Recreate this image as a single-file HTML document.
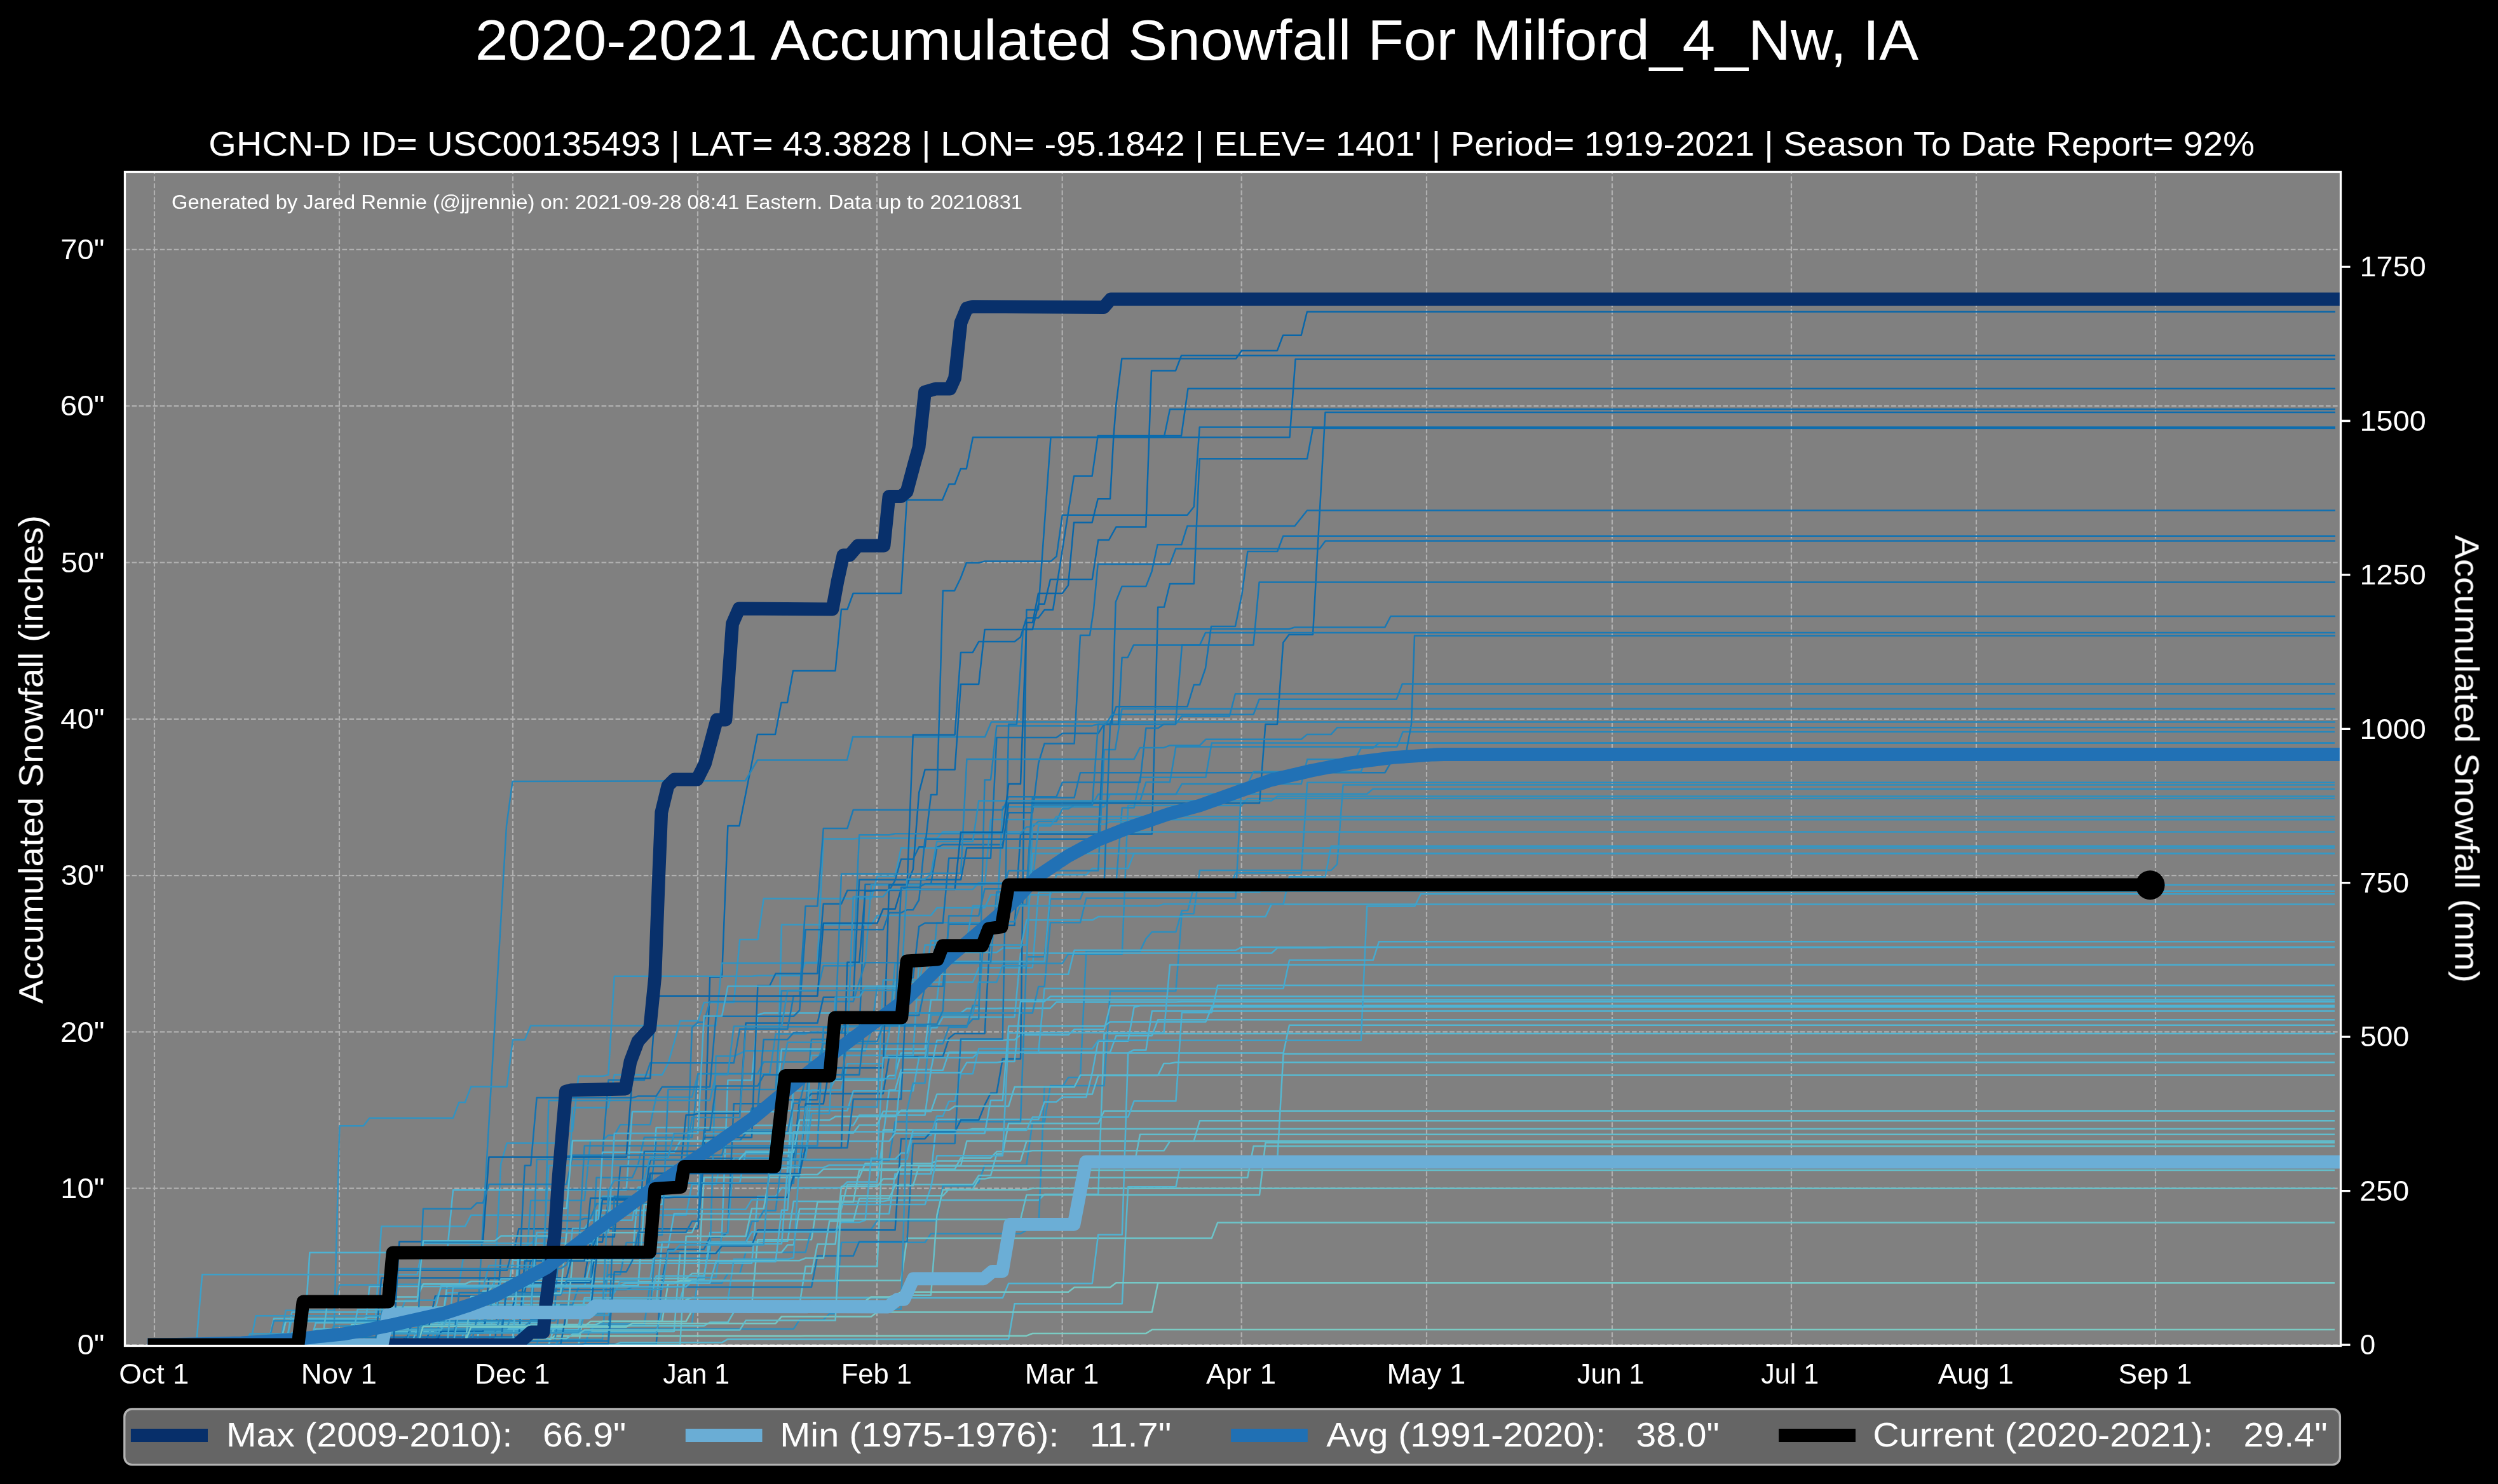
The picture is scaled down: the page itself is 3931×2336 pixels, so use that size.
<!DOCTYPE html>
<html><head><meta charset="utf-8"><style>html,body{margin:0;padding:0;background:#000;overflow:hidden}svg{display:block}</style></head>
<body><svg width="3931" height="2336" viewBox="0 0 3931 2336" font-family='"Liberation Sans", sans-serif'>
<rect x="0" y="0" width="3931" height="2336" fill="#000"/>
<rect x="196.5" y="270.5" width="3487.0" height="1848.0" fill="#808080"/>
<path d="M243 2118.5V270.5 M534 2118.5V270.5 M807 2118.5V270.5 M1098 2118.5V270.5 M1380 2118.5V270.5 M1671.7 2118.5V270.5 M1953.7 2118.5V270.5 M2245 2118.5V270.5 M2537 2118.5V270.5 M2819 2118.5V270.5 M3110 2118.5V270.5 M3392 2118.5V270.5" stroke="#b0b0b0" stroke-width="2.2" stroke-dasharray="7.7 3.33" stroke-dashoffset="8.63" fill="none"/>
<path d="M196.5 2117.0H3683.5 M196.5 1870.7H3683.5 M196.5 1624.4H3683.5 M196.5 1378.1H3683.5 M196.5 1131.8H3683.5 M196.5 885.5H3683.5 M196.5 639.2H3683.5 M196.5 392.9H3683.5" stroke="#b0b0b0" stroke-width="2.2" stroke-dasharray="7.7 3.33" fill="none"/>
<clipPath id="axclip"><rect x="196.5" y="270.5" width="3487.0" height="1848.0"/></clipPath>
<g clip-path="url(#axclip)"><path d="M243.0 2117.0 L769.4 2117.0 L778.8 2042.6 L797.6 2042.6 L807.0 1983.8 L995.0 1983.8 L1004.4 1868.7 L1060.8 1868.7 L1070.2 1842.4 L1145.4 1842.4 L1154.8 1838.9 L1239.4 1838.9 L1248.8 1700.5 L1389.8 1700.5 L1399.2 1692.9 L1408.6 1692.9 L1418.0 1657.4 L2019.6 1657.4 L2029.0 1613.8 L3674.0 1613.8" stroke="#51b5d2" stroke-width="2.5" fill="none" stroke-linejoin="round"/>
<path d="M243.0 2117.0 L722.4 2117.0 L731.8 2092.9 L910.4 2092.9 L919.8 2046.6 L1070.2 2046.6 L1079.6 2013.6 L1107.8 2013.6 L1117.2 1939.9 L1136.0 1939.9 L1145.4 1700.5 L1183.0 1700.5 L1192.4 1597.8 L1201.8 1594.6 L1512.0 1594.6 L1521.4 1587.5 L1568.4 1587.5 L1577.8 1587.0 L1653.0 1587.0 L1662.4 1577.4 L1850.4 1577.4 L1859.8 1576.9 L3674.0 1576.9" stroke="#4db2d3" stroke-width="2.5" fill="none" stroke-linejoin="round"/>
<path d="M243.0 2117.0 L449.8 2117.0 L459.2 2076.9 L590.8 2076.9 L600.2 1930.6 L731.8 1930.6 L741.2 1912.8 L1079.6 1912.8 L1089.0 1864.0 L1126.6 1864.0 L1136.0 1816.3 L1267.6 1816.3 L1277.0 1715.8 L1324.0 1715.8 L1333.4 1674.2 L1389.8 1674.2 L1399.2 1626.6 L1408.6 1546.1 L1530.8 1546.1 L1540.2 1523.2 L1624.8 1523.2 L1634.2 1404.5 L1982.0 1404.5 L1991.4 1392.9 L3674.0 1392.9" stroke="#3c9fc8" stroke-width="2.5" fill="none" stroke-linejoin="round"/>
<path d="M243.0 2117.0 L421.6 2117.0 L431.0 2075.4 L572.0 2075.4 L581.4 2073.2 L703.6 2073.2 L713.0 2053.7 L1032.6 2053.7 L1042.0 1954.7 L1192.4 1954.7 L1201.8 1953.7 L1239.4 1953.7 L1248.8 1891.1 L1389.8 1891.1 L1399.2 1889.2 L1634.2 1889.2 L1643.6 1880.1 L1728.2 1880.1 L1737.6 1626.9 L3674.0 1626.9" stroke="#53b6d1" stroke-width="2.5" fill="none" stroke-linejoin="round"/>
<path d="M243.0 2117.0 L910.4 2117.0 L919.8 2059.1 L995.0 2059.1 L1004.4 2055.9 L1183.0 2055.9 L1192.4 1951.2 L1277.0 1951.2 L1286.4 1891.9 L1342.8 1891.9 L1352.2 1841.9 L3674.0 1841.9" stroke="#65c0cb" stroke-width="2.5" fill="none" stroke-linejoin="round"/>
<path d="M243.0 2117.0 L844.6 2117.0 L854.0 2086.2 L1013.8 2086.2 L1023.2 2019.7 L1136.0 2019.7 L1145.4 2004.9 L1164.2 2004.9 L1173.6 1971.2 L1267.6 1971.2 L1277.0 1935.0 L1371.0 1935.0 L1380.4 1921.4 L1474.4 1921.4 L1483.8 1866.5 L1530.8 1866.5 L1540.2 1861.3 L1549.6 1834.2 L1615.4 1834.2 L1624.8 1766.5 L1643.6 1766.5 L1653.0 1709.1 L1737.6 1709.1 L1747.0 1559.9 L1850.4 1559.9 L1859.8 1438.2 L1878.6 1438.2 L1888.0 1370.0 L2094.8 1370.0 L2104.2 1360.4 L2113.6 1235.5 L3674.0 1235.5" stroke="#2c8ebf" stroke-width="2.5" fill="none" stroke-linejoin="round"/>
<path d="M243.0 2117.0 L355.8 2117.0 L365.2 2115.8 L1032.6 2115.8 L1042.0 2014.0 L1051.4 1966.8 L1107.8 1966.8 L1117.2 1947.3 L1136.0 1947.3 L1145.4 1939.2 L1154.8 1737.2 L1230.0 1737.2 L1239.4 1731.3 L1286.4 1731.3 L1295.8 1626.1 L1352.2 1626.1 L1361.6 1391.9 L1465.0 1391.9 L1474.4 1334.0 L1483.8 1329.6 L1577.8 1329.6 L1587.2 1279.3 L1624.8 1279.3 L1634.2 1201.5 L1643.6 1170.5 L1690.6 1170.5 L1700.0 1000.0 L1715.0 1000.0 L1721.0 960.0 L1727.7 888.0 L1841.0 888.0 L1850.2 863.8 L2076.6 863.8 L2085.7 851.6 L3675.0 851.6" stroke="#1373b2" stroke-width="2.5" fill="none" stroke-linejoin="round"/>
<path d="M243.0 2117.0 L778.8 2117.0 L788.2 1976.9 L807.0 1976.9 L816.4 1934.2 L1098.4 1934.2 L1107.8 1823.4 L1248.8 1823.4 L1258.2 1730.8 L1267.6 1730.8 L1277.0 1721.4 L1389.8 1721.4 L1399.2 1663.1 L1483.8 1663.1 L1493.2 1634.5 L1502.6 1626.9 L1549.6 1626.9 L1559.0 1456.7 L1596.6 1456.7 L1606.0 1312.8 L1812.8 1312.8 L1822.2 955.7 L1832.0 955.6 L1841.0 919.0 L1878.8 919.0 L1887.7 722.3 L2057.0 722.3 L2066.0 674.0 L3675.0 674.0" stroke="#0d6dae" stroke-width="2.5" fill="none" stroke-linejoin="round"/>
<path d="M243.0 2117.0 L750.6 2117.0 L760.0 2032.5 L769.4 2032.5 L778.8 2017.5 L1098.4 2017.5 L1107.8 1853.5 L1352.2 1853.5 L1361.6 1831.5 L1465.0 1831.5 L1474.4 1827.4 L1606.0 1827.4 L1615.4 1796.3 L3674.0 1796.3" stroke="#61bdcd" stroke-width="2.5" fill="none" stroke-linejoin="round"/>
<path d="M243.0 2117.0 L872.8 2117.0 L882.2 2108.6 L948.0 2108.6 L957.4 1980.8 L1117.2 1980.8 L1126.6 1662.6 L1154.8 1662.6 L1164.2 1658.4 L1173.6 1654.2 L1361.6 1654.2 L1371.0 1622.2 L1399.2 1622.2 L1408.6 1516.5 L1671.8 1516.5 L1681.2 1501.7 L1765.8 1501.7 L1775.2 1268.0 L1953.8 1268.0 L1963.2 1256.9 L3674.0 1256.9" stroke="#2d8fbf" stroke-width="2.5" fill="none" stroke-linejoin="round"/>
<path d="M243.0 2117.0 L919.8 2117.0 L929.2 2091.9 L1248.8 2091.9 L1258.2 2077.6 L1295.8 2077.6 L1305.2 2068.0 L1314.6 2068.0 L1324.0 1955.7 L1455.6 1955.7 L1465.0 1941.9 L1606.0 1941.9 L1615.4 1936.5 L1634.2 1936.5 L1643.6 1710.6 L1671.8 1710.6 L1681.2 1696.1 L1700.0 1696.1 L1709.4 1497.1 L1794.0 1497.1 L1803.4 1477.6 L1812.8 1467.0 L1850.4 1467.0 L1859.8 1433.3 L1869.2 1433.3 L1878.6 1396.1 L1935.0 1396.1 L1944.4 1374.2 L2047.8 1374.2 L2057.2 1231.8 L3674.0 1231.8" stroke="#2c8ebf" stroke-width="2.5" fill="none" stroke-linejoin="round"/>
<path d="M243.0 2117.0 L412.2 2117.0 L421.6 2113.6 L816.4 2113.6 L825.8 2027.6 L835.2 1889.7 L919.8 1889.7 L929.2 1795.1 L948.0 1795.1 L957.4 1787.0 L966.8 1787.0 L976.2 1770.2 L1023.2 1770.2 L1032.6 1726.9 L1089.0 1726.9 L1098.4 1690.2 L1211.2 1690.2 L1220.6 1627.6 L1267.6 1627.6 L1277.0 1624.4 L1371.0 1624.4 L1380.4 1552.2 L1465.0 1552.2 L1474.4 1452.2 L1568.4 1452.2 L1577.8 1270.2 L1737.6 1270.2 L1747.0 1249.8 L2151.2 1249.8 L2160.6 1241.9 L3674.0 1241.9" stroke="#2c8ebf" stroke-width="2.5" fill="none" stroke-linejoin="round"/>
<path d="M243.0 2117.0 L600.2 2117.0 L609.6 2096.1 L1060.8 2096.1 L1070.2 1971.4 L1230.0 1971.4 L1239.4 1959.6 L1248.8 1959.6 L1258.2 1903.0 L1324.0 1903.0 L1333.4 1864.8 L1530.8 1864.8 L1540.2 1850.3 L1559.0 1850.3 L1568.4 1816.5 L1577.8 1816.5 L1587.2 1768.5 L1728.2 1768.5 L1737.6 1748.8 L3674.0 1748.8" stroke="#5dbbce" stroke-width="2.5" fill="none" stroke-linejoin="round"/>
<path d="M243.0 2117.0 L468.6 2117.0 L478.0 2057.4 L1070.2 2057.4 L1079.6 2046.1 L1089.0 2042.6 L1418.0 2042.6 L1427.4 2038.7 L1465.0 2038.7 L1474.4 1913.1 L1483.8 1872.9 L1615.4 1872.9 L1624.8 1870.7 L3674.0 1870.7" stroke="#68c1ca" stroke-width="2.5" fill="none" stroke-linejoin="round"/>
<path d="M243.0 2117.0 L816.4 2117.0 L825.8 2022.4 L891.6 2022.4 L901.0 1933.8 L919.8 1933.8 L929.2 1920.7 L995.0 1920.7 L1004.4 1869.2 L1051.4 1869.2 L1060.8 1862.3 L1164.2 1862.3 L1173.6 1812.3 L1211.2 1812.3 L1220.6 1748.3 L1333.4 1748.3 L1342.8 1717.3 L1436.8 1717.3 L1446.2 1664.5 L1455.6 1664.5 L1465.0 1617.7 L1474.4 1617.7 L1483.8 1601.0 L1596.6 1601.0 L1606.0 1500.5 L2000.8 1500.5 L2010.2 1492.1 L2085.4 1492.1 L2094.8 1490.9 L3674.0 1490.9" stroke="#47abcf" stroke-width="2.5" fill="none" stroke-linejoin="round"/>
<path d="M243.0 2117.0 L440.4 2117.0 L449.8 2080.3 L807.0 2080.3 L816.4 1963.6 L1051.4 1963.6 L1060.8 1910.4 L1399.2 1910.4 L1408.6 1847.8 L1465.0 1847.8 L1474.4 1762.1 L1634.2 1762.1 L1643.6 1734.5 L1662.4 1734.5 L1671.8 1726.9 L1709.4 1726.9 L1718.8 1688.7 L1728.2 1638.7 L1775.2 1638.7 L1784.6 1585.5 L1794.0 1583.0 L3674.0 1583.0" stroke="#4fb3d3" stroke-width="2.5" fill="none" stroke-linejoin="round"/>
<path d="M243.0 2117.0 L966.8 2117.0 L976.2 2113.3 L1136.0 2113.3 L1145.4 2107.9 L1587.2 2107.9 L1596.6 2052.2 L1765.8 2052.2 L1775.2 1868.2 L1850.4 1868.2 L1859.8 1824.1 L2010.2 1824.1 L2019.6 1658.9 L3674.0 1658.9" stroke="#56b7d0" stroke-width="2.5" fill="none" stroke-linejoin="round"/>
<path d="M243.0 2117.0 L666.0 2117.0 L675.4 2098.8 L760.0 2098.8 L769.4 2012.3 L919.8 2012.3 L929.2 1955.2 L948.0 1955.2 L957.4 1888.7 L1013.8 1888.7 L1023.2 1825.4 L1107.8 1825.4 L1117.2 1537.7 L1136.0 1537.7 L1145.4 1300.0 L1163.5 1300.0 L1192.0 1156.0 L1220.0 1156.0 L1229.5 1106.0 L1239.0 1106.0 L1248.0 1056.0 L1314.5 1056.0 L1324.0 959.0 L1333.5 959.0 L1342.6 934.0 L1418.0 934.0 L1427.0 787.0 L1483.0 787.0 L1493.5 762.0 L1502.6 762.0 L1511.7 738.0 L1520.8 738.0 L1531.0 688.5 L2029.5 688.5 L2038.6 565.4 L3675.0 565.4" stroke="#0969ad" stroke-width="2.5" fill="none" stroke-linejoin="round"/>
<path d="M243.0 2117.0 L572.0 2117.0 L581.4 2025.1 L919.8 2025.1 L929.2 1988.7 L1183.0 1988.7 L1192.4 1883.5 L1220.6 1883.5 L1230.0 1869.7 L1324.0 1869.7 L1333.4 1860.4 L1380.4 1860.4 L1389.8 1789.4 L1399.2 1715.8 L1408.6 1715.8 L1418.0 1683.8 L1465.0 1683.8 L1474.4 1637.7 L1577.8 1637.7 L1587.2 1636.7 L1596.6 1636.7 L1606.0 1629.1 L1681.2 1629.1 L1690.6 1620.5 L1737.6 1620.5 L1747.0 1583.0 L3674.0 1583.0" stroke="#4fb3d3" stroke-width="2.5" fill="none" stroke-linejoin="round"/>
<path d="M243.0 2117.0 L562.6 2117.0 L572.0 2098.3 L675.4 2098.3 L684.8 2075.4 L769.4 2075.4 L778.8 2010.8 L788.2 1832.0 L797.6 1799.5 L882.2 1799.5 L891.6 1780.8 L901.0 1780.8 L910.4 1693.9 L948.0 1693.9 L957.4 1692.1 L966.8 1536.7 L1183.0 1536.7 L1192.4 1535.7 L1258.2 1535.7 L1267.6 1515.0 L1286.4 1515.0 L1295.8 1320.5 L1342.8 1320.5 L1352.2 1319.5 L1474.4 1319.5 L1483.8 1309.4 L3674.0 1309.4" stroke="#3395c3" stroke-width="2.5" fill="none" stroke-linejoin="round"/>
<path d="M243.0 2117.0 L675.4 2117.0 L684.8 2095.3 L929.2 2095.3 L938.6 2083.5 L1089.0 2083.5 L1098.4 2011.1 L1126.6 2011.1 L1136.0 1941.6 L1145.4 1941.6 L1154.8 1822.4 L1220.6 1822.4 L1230.0 1455.4 L1371.0 1455.4 L1380.4 1440.9 L1465.0 1440.9 L1474.4 1429.1 L1549.6 1429.1 L1559.0 1408.6 L1653.0 1408.6 L1662.4 1377.1 L1709.4 1377.1 L1718.8 1367.0 L1775.2 1367.0 L1784.6 1343.4 L3674.0 1343.4" stroke="#3699c5" stroke-width="2.5" fill="none" stroke-linejoin="round"/>
<path d="M243.0 2117.0 L440.4 2117.0 L449.8 2062.8 L525.0 2062.8 L534.4 2022.4 L600.2 2022.4 L609.6 2021.7 L722.4 2021.7 L731.8 1963.3 L741.2 1961.8 L825.8 1961.8 L835.2 1957.2 L844.6 1948.3 L891.6 1948.3 L901.0 1743.6 L957.4 1743.6 L966.8 1691.9 L1042.0 1691.9 L1051.4 1674.2 L1060.8 1641.1 L1070.2 1606.9 L1098.4 1606.9 L1107.8 1578.1 L1154.8 1578.1 L1164.2 1479.1 L1192.4 1479.1 L1201.8 1414.6 L1371.0 1414.6 L1380.4 1379.6 L1408.6 1379.6 L1418.0 1334.8 L3674.0 1334.8" stroke="#3597c4" stroke-width="2.5" fill="none" stroke-linejoin="round"/>
<path d="M243.0 2117.0 L684.8 2117.0 L694.2 2065.0 L872.8 2065.0 L882.2 1921.4 L910.4 1921.4 L919.8 1918.0 L929.2 1918.0 L938.6 1894.8 L1023.2 1894.8 L1032.6 1862.8 L1248.8 1862.8 L1258.2 1742.4 L1267.6 1742.4 L1277.0 1636.0 L1314.6 1636.0 L1324.0 1615.3 L1465.0 1615.3 L1474.4 1614.5 L1521.4 1614.5 L1530.8 1604.2 L1540.2 1604.2 L1549.6 1227.4 L1559.0 1227.4 L1568.4 1142.4 L1718.8 1142.4 L1728.2 1139.9 L1850.0 1140.0 L1859.3 1127.4 L1934.8 1127.4 L1943.9 1092.3 L3675.0 1092.3" stroke="#2081b8" stroke-width="2.5" fill="none" stroke-linejoin="round"/>
<path d="M243.0 2117.0 L731.8 2117.0 L741.2 2080.1 L751.0 2080.0 L797.0 1300.0 L806.5 1230.0 L1173.0 1229.0 L1192.0 1196.5 L1333.0 1196.5 L1342.0 1160.0 L1550.0 1160.0 L1560.0 1136.5 L3675.0 1136.5" stroke="#2586bb" stroke-width="2.5" fill="none" stroke-linejoin="round"/>
<path d="M243.0 2117.0 L863.4 2117.0 L872.8 2087.2 L1107.8 2087.2 L1117.2 2081.5 L1145.4 2081.5 L1154.8 2065.3 L1164.2 2053.7 L1258.2 2053.7 L1267.6 1993.6 L1380.4 1993.6 L1389.8 1778.6 L1521.4 1778.6 L1530.8 1777.1 L3674.0 1777.1" stroke="#5fbdcd" stroke-width="2.5" fill="none" stroke-linejoin="round"/>
<path d="M243.0 2117.0 L496.8 2117.0 L506.2 2109.9 L863.4 2109.9 L872.8 2103.0 L1258.2 2103.0 L1267.6 2102.7 L1615.4 2102.7 L1624.8 2099.0 L1803.4 2099.0 L1812.8 2093.1 L3674.0 2093.1" stroke="#7accc4" stroke-width="2.5" fill="none" stroke-linejoin="round"/>
<path d="M243.0 2117.0 L543.8 2117.0 L553.2 2085.0 L938.6 2085.0 L948.0 2079.8 L1042.0 2079.8 L1051.4 2020.2 L1060.8 2020.2 L1070.2 2015.8 L1418.0 2015.8 L1427.4 1949.0 L1906.8 1949.0 L1916.2 1924.4 L3674.0 1924.4" stroke="#6cc4c9" stroke-width="2.5" fill="none" stroke-linejoin="round"/>
<path d="M243.0 2117.0 L713.0 2117.0 L722.4 2111.1 L872.8 2111.1 L882.2 2053.9 L901.0 2053.9 L910.4 2026.1 L948.0 2026.1 L957.4 2006.2 L976.2 2006.2 L985.6 1955.9 L1173.6 1955.9 L1183.0 1922.4 L1192.4 1922.4 L1201.8 1905.7 L1220.6 1905.7 L1230.0 1826.4 L1399.2 1826.4 L1408.6 1765.8 L1606.0 1765.8 L1615.4 1506.2 L1634.2 1506.2 L1643.6 1505.9 L1653.0 1415.0 L1700.0 1415.0 L1709.4 1391.2 L1756.4 1391.2 L1765.8 1271.5 L1784.6 1271.5 L1794.0 1223.7 L1897.4 1223.7 L1906.8 1169.5 L3674.0 1169.5" stroke="#2788bc" stroke-width="2.5" fill="none" stroke-linejoin="round"/>
<path d="M243.0 2117.0 L487.4 2117.0 L496.8 2082.3 L854.0 2082.3 L863.4 2056.4 L929.2 2056.4 L938.6 1905.2 L1023.2 1905.2 L1032.6 1775.1 L1164.2 1775.1 L1173.6 1771.4 L1342.8 1771.4 L1352.2 1755.4 L1455.6 1755.4 L1465.0 1684.7 L1483.8 1684.7 L1493.2 1656.4 L1747.0 1656.4 L1756.4 1630.3 L1812.8 1630.3 L1822.2 1605.2 L3674.0 1605.2" stroke="#50b4d2" stroke-width="2.5" fill="none" stroke-linejoin="round"/>
<path d="M243.0 2117.0 L449.8 2117.0 L459.2 2098.0 L1032.6 2098.0 L1042.0 2062.3 L1098.4 2062.3 L1107.8 2048.3 L1145.4 2048.3 L1154.8 1982.0 L1239.4 1982.0 L1248.8 1980.1 L1258.2 1824.9 L1427.4 1824.9 L1436.8 1787.0 L1465.0 1787.0 L1474.4 1756.7 L1483.8 1756.7 L1493.2 1733.8 L1502.6 1733.8 L1512.0 1690.2 L1530.8 1690.2 L1540.2 1651.0 L1718.8 1651.0 L1728.2 1637.7 L2141.8 1637.7 L2151.2 1426.4 L2226.4 1426.4 L2235.8 1407.2 L3674.0 1407.2" stroke="#3ea1c9" stroke-width="2.5" fill="none" stroke-linejoin="round"/>
<path d="M243.0 2117.0 L628.4 2117.0 L637.8 2104.7 L816.4 2104.7 L825.8 1984.7 L929.2 1984.7 L938.6 1972.9 L1126.6 1972.9 L1136.0 1961.3 L1183.0 1961.3 L1192.4 1936.2 L1408.6 1936.2 L1418.0 1792.4 L1455.6 1792.4 L1465.0 1781.8 L1502.6 1781.8 L1512.0 1763.1 L1540.2 1763.1 L1549.6 1739.2 L1559.0 1720.7 L1568.4 1720.7 L1577.8 1666.8 L1606.0 1666.8 L1615.4 959.9 L1634.0 960.0 L1653.5 688.5 L1831.8 688.5 L1841.0 644.3 L3675.0 644.3" stroke="#0b6cae" stroke-width="2.5" fill="none" stroke-linejoin="round"/>
<path d="M243.0 2117.0 L534.4 2117.0 L543.8 2087.7 L694.2 2087.7 L703.6 2035.2 L966.8 2035.2 L976.2 2016.8 L1004.4 2016.8 L1013.8 1903.7 L1173.6 1903.7 L1183.0 1888.4 L1239.4 1888.4 L1248.8 1717.3 L1267.6 1717.3 L1277.0 1716.8 L1305.2 1716.8 L1314.6 1698.0 L1408.6 1698.0 L1418.0 1579.6 L1427.4 1579.6 L1436.8 1573.9 L1474.4 1573.9 L1483.8 1499.3 L1568.4 1499.3 L1577.8 1492.4 L1606.0 1492.4 L1615.4 1448.3 L1718.8 1448.3 L1728.2 1443.1 L1991.4 1443.1 L2000.8 1423.4 L3674.0 1423.4" stroke="#3fa2ca" stroke-width="2.5" fill="none" stroke-linejoin="round"/>
<path d="M243.0 2117.0 L478.0 2117.0 L487.4 1971.7 L703.6 1971.7 L713.0 1873.2 L985.6 1873.2 L995.0 1750.0 L1220.6 1750.0 L1230.0 1651.5 L1455.6 1651.5 L1465.0 1573.9 L3674.0 1573.9" stroke="#4db2d3" stroke-width="2.5" fill="none" stroke-linejoin="round"/>
<path d="M243.0 2117.0 L525.0 2117.0 L534.4 1772.2 L572.0 1772.2 L581.4 1759.9 L713.0 1759.9 L722.4 1735.2 L731.8 1735.2 L741.2 1710.6 L797.6 1710.6 L807.0 1636.7 L825.8 1636.7 L835.2 1614.5 L1126.6 1614.5 L1136.0 1516.0 L1361.6 1516.0 L1371.0 1392.9 L1549.6 1392.9 L1559.0 1289.9 L3674.0 1289.9" stroke="#3192c1" stroke-width="2.5" fill="none" stroke-linejoin="round"/>
<path d="M243.0 2117.0 L459.2 2117.0 L468.6 2104.7 L825.8 2104.7 L835.2 2077.3 L854.0 2077.3 L863.4 2064.0 L872.8 2030.1 L985.6 2030.1 L995.0 2025.9 L1277.0 2025.9 L1286.4 1976.9 L1342.8 1976.9 L1352.2 1954.4 L1427.4 1954.4 L1436.8 1800.0 L1502.6 1800.0 L1512.0 1635.5 L1577.8 1635.5 L1587.2 1139.9 L1600.0 1140.0 L1610.0 990.3 L2028.4 990.3 L2037.5 987.4 L2179.4 987.4 L2188.5 970.0 L3675.0 970.0" stroke="#1878b4" stroke-width="2.5" fill="none" stroke-linejoin="round"/>
<path d="M243.0 2117.0 L308.8 2117.0 L318.2 2006.2 L656.6 2006.2 L666.0 1956.9 L938.6 1956.9 L948.0 1883.0 L1098.4 1883.0 L1107.8 1784.5 L1267.6 1784.5 L1277.0 1661.3 L1436.8 1661.3 L1446.2 1513.6 L1643.6 1513.6 L1653.0 1402.7 L3674.0 1402.7" stroke="#3da0c9" stroke-width="2.5" fill="none" stroke-linejoin="round"/>
<path d="M243.0 2117.0 L487.4 2117.0 L496.8 2092.1 L694.2 2092.1 L703.6 2023.9 L1004.4 2023.9 L1013.8 1896.1 L1042.0 1896.1 L1051.4 1846.6 L1154.8 1846.6 L1164.2 1823.9 L1173.6 1813.8 L1248.8 1813.8 L1258.2 1763.3 L1305.2 1763.3 L1314.6 1757.6 L1408.6 1757.6 L1418.0 1747.8 L1493.2 1747.8 L1502.6 1741.4 L1587.2 1741.4 L1596.6 1711.1 L1690.6 1711.1 L1700.0 1692.6 L3674.0 1692.6" stroke="#58b9d0" stroke-width="2.5" fill="none" stroke-linejoin="round"/>
<path d="M243.0 2117.0 L684.8 2117.0 L694.2 2095.8 L760.0 2095.8 L769.4 2056.9 L807.0 2056.9 L816.4 2019.2 L929.2 2019.2 L938.6 1959.6 L948.0 1888.2 L1004.4 1888.2 L1013.8 1885.2 L1051.4 1885.2 L1060.8 1884.7 L1239.4 1884.7 L1248.8 1850.7 L1258.2 1850.7 L1267.6 1737.5 L1295.8 1737.5 L1305.2 1681.0 L1389.8 1681.0 L1399.2 1393.1 L1427.4 1393.1 L1436.8 1368.5 L1446.2 1247.6 L1455.6 1211.6 L1502.6 1211.6 L1512.0 1076.9 L1540.2 1076.9 L1549.6 990.9 L1624.8 990.9 L1634.2 950.8 L1643.6 950.8 L1653.0 911.9 L1718.8 911.9 L1728.2 850.0 L1745.0 850.0 L1756.5 829.4 L1803.3 829.4 L1812.0 583.6 L1850.0 583.6 L1859.0 559.7 L3675.0 559.7" stroke="#0868ac" stroke-width="2.5" fill="none" stroke-linejoin="round"/>
<path d="M243.0 2117.0 L1070.2 2117.0 L1079.6 1946.1 L1173.6 1946.1 L1183.0 1902.5 L1201.8 1902.5 L1211.2 1849.3 L1258.2 1849.3 L1267.6 1849.0 L1286.4 1849.0 L1295.8 1840.4 L1502.6 1840.4 L1512.0 1822.7 L1559.0 1822.7 L1568.4 1812.8 L1615.4 1812.8 L1624.8 1811.3 L1831.6 1811.3 L1841.0 1796.6 L1878.6 1796.6 L1888.0 1764.3 L3674.0 1764.3" stroke="#5ebcce" stroke-width="2.5" fill="none" stroke-linejoin="round"/>
<path d="M243.0 2117.0 L656.6 2117.0 L666.0 2085.5 L891.6 2085.5 L901.0 1984.2 L1258.2 1984.2 L1267.6 1980.5 L1295.8 1980.5 L1305.2 1922.2 L1342.8 1922.2 L1352.2 1886.5 L1399.2 1886.5 L1408.6 1866.3 L1436.8 1866.3 L1446.2 1835.5 L1784.6 1835.5 L1794.0 1785.7 L3674.0 1785.7" stroke="#61bdcd" stroke-width="2.5" fill="none" stroke-linejoin="round"/>
<path d="M243.0 2117.0 L440.4 2117.0 L449.8 2079.1 L609.6 2079.1 L619.0 2041.6 L656.6 2041.6 L666.0 2021.2 L731.8 2021.2 L741.2 2017.0 L825.8 2017.0 L835.2 2012.6 L1079.6 2012.6 L1089.0 2004.7 L1277.0 2004.7 L1286.4 1958.4 L1314.6 1958.4 L1324.0 1867.7 L1380.4 1867.7 L1389.8 1855.4 L1408.6 1855.4 L1418.0 1834.7 L1512.0 1834.7 L1521.4 1796.3 L3674.0 1796.3" stroke="#61bdcd" stroke-width="2.5" fill="none" stroke-linejoin="round"/>
<path d="M243.0 2117.0 L656.6 2117.0 L666.0 2092.9 L788.2 2092.9 L797.6 2038.4 L882.2 2038.4 L891.6 2015.8 L929.2 2015.8 L938.6 1853.7 L995.0 1853.7 L1004.4 1832.3 L1013.8 1790.4 L1089.0 1790.4 L1098.4 1689.9 L1192.4 1689.9 L1201.8 1671.4 L1286.4 1671.4 L1295.8 1642.9 L1483.8 1642.9 L1493.2 1617.0 L1521.4 1617.0 L1530.8 1582.8 L1540.2 1582.8 L1549.6 1451.0 L1596.6 1451.0 L1606.0 1423.7 L1615.4 1423.7 L1624.8 1261.4 L1794.0 1261.4 L1803.4 1231.3 L1841.0 1231.3 L1850.4 1175.6 L2198.2 1175.6 L2207.6 1152.0 L3674.0 1152.0" stroke="#2687bb" stroke-width="2.5" fill="none" stroke-linejoin="round"/>
<path d="M243.0 2117.0 L449.8 2117.0 L459.2 2065.5 L760.0 2065.5 L769.4 2048.3 L1023.2 2048.3 L1032.6 2008.6 L1107.8 2008.6 L1117.2 1957.9 L1230.0 1957.9 L1239.4 1837.9 L1295.8 1837.9 L1305.2 1834.0 L1380.4 1834.0 L1389.8 1824.6 L1408.6 1824.6 L1418.0 1815.0 L1427.4 1815.0 L1436.8 1779.3 L1577.8 1779.3 L1587.2 1779.1 L1615.4 1779.1 L1624.8 1758.4 L1775.2 1758.4 L1784.6 1733.3 L1850.4 1733.3 L1859.8 1594.1 L1906.8 1594.1 L1916.2 1551.0 L3674.0 1551.0" stroke="#4bb0d1" stroke-width="2.5" fill="none" stroke-linejoin="round"/>
<path d="M243.0 2117.0 L421.6 2117.0 L431.0 2079.3 L872.8 2079.3 L882.2 2063.3 L1023.2 2063.3 L1032.6 1943.9 L1042.0 1943.9 L1051.4 1715.0 L1220.6 1715.0 L1230.0 1559.4 L1286.4 1559.4 L1295.8 1520.2 L1342.8 1520.2 L1352.2 1314.3 L1399.2 1314.3 L1408.6 1312.3 L1606.0 1312.3 L1615.4 1301.5 L1624.8 1301.5 L1634.2 1292.9 L1662.4 1292.9 L1671.8 1273.2 L1681.2 1273.2 L1690.6 1267.3 L1718.8 1267.3 L1728.2 1250.3 L1850.4 1250.3 L1859.8 1234.0 L2047.8 1234.0 L2057.2 1195.3 L2132.4 1195.3 L2141.8 1177.6 L2160.6 1177.6 L2170.0 1169.5 L3674.0 1169.5" stroke="#2788bc" stroke-width="2.5" fill="none" stroke-linejoin="round"/>
<path d="M243.0 2117.0 L741.2 2117.0 L750.6 2074.9 L769.4 2074.9 L778.8 2069.0 L835.2 2069.0 L844.6 1967.5 L872.8 1967.5 L882.2 1872.2 L1079.6 1872.2 L1089.0 1617.5 L1098.4 1608.9 L1107.8 1608.9 L1117.2 1576.6 L1342.8 1576.6 L1352.2 1545.3 L1361.6 1515.3 L1559.0 1515.3 L1568.4 1404.0 L1577.8 1404.0 L1587.2 1370.5 L1728.2 1370.5 L1737.6 1180.1 L1755.0 1180.0 L1765.6 1115.7 L3675.0 1115.7" stroke="#2283ba" stroke-width="2.5" fill="none" stroke-linejoin="round"/>
<path d="M243.0 2117.0 L825.8 2117.0 L835.2 2110.8 L957.4 2110.8 L966.8 1883.3 L1023.2 1883.3 L1032.6 1795.6 L1164.2 1795.6 L1173.6 1783.8 L1183.0 1744.6 L1192.4 1744.6 L1201.8 1636.2 L1239.4 1636.2 L1248.8 1625.6 L1324.0 1625.6 L1333.4 1598.3 L1446.2 1598.3 L1455.6 1552.7 L1483.8 1552.7 L1493.2 1454.7 L1568.4 1454.7 L1577.8 1398.8 L1615.4 1398.8 L1624.8 1255.4 L1690.6 1255.4 L1700.0 1216.3 L2179.4 1216.3 L2188.8 1200.0 L2210.0 1200.0 L2221.0 1140.0 L2226.0 1000.7 L3675.0 1000.7" stroke="#1a7ab5" stroke-width="2.5" fill="none" stroke-linejoin="round"/>
<path d="M243.0 2117.0 L478.0 2117.0 L487.4 2115.8 L581.4 2115.8 L590.8 2115.0 L637.8 2115.0 L647.2 2086.2 L675.4 2086.2 L684.8 2040.2 L797.6 2040.2 L807.0 2034.2 L825.8 2034.2 L835.2 1984.7 L919.8 1984.7 L929.2 1886.0 L1013.8 1886.0 L1023.2 1846.8 L1070.2 1846.8 L1079.6 1755.2 L1089.0 1755.2 L1098.4 1752.7 L1164.2 1752.7 L1173.6 1610.4 L1286.4 1610.4 L1295.8 1569.7 L1342.8 1569.7 L1352.2 1384.8 L1512.0 1384.8 L1521.4 1334.5 L1577.8 1334.5 L1587.2 1264.3 L1982.0 1264.3 L1991.4 1139.9 L2010.0 1140.0 L2019.3 1011.6 L2028.4 999.0 L2066.0 999.0 L2085.5 649.0 L3675.0 649.0" stroke="#0b6cae" stroke-width="2.5" fill="none" stroke-linejoin="round"/>
<path d="M243.0 2117.0 L619.0 2117.0 L628.4 2115.3 L731.8 2115.3 L741.2 2098.0 L778.8 2098.0 L788.2 2071.9 L835.2 2071.9 L844.6 1825.1 L1079.6 1825.1 L1089.0 1758.9 L1164.2 1758.9 L1173.6 1616.3 L1352.2 1616.3 L1361.6 1599.0 L1418.0 1599.0 L1427.4 1594.6 L1624.8 1594.6 L1634.2 1553.0 L1643.6 1553.0 L1653.0 1452.2 L1700.0 1452.2 L1709.4 1413.8 L1944.4 1413.8 L1953.8 1234.8 L1963.2 1234.8 L1972.6 1214.8 L2141.8 1214.8 L2151.2 1190.9 L3674.0 1190.9" stroke="#298abd" stroke-width="2.5" fill="none" stroke-linejoin="round"/>
<path d="M243.0 2117.0 L647.2 2117.0 L656.6 2090.9 L882.2 2090.9 L891.6 2088.2 L910.4 2088.2 L919.8 2043.1 L1577.8 2043.1 L1587.2 2020.2 L1718.8 2020.2 L1728.2 1943.4 L1765.8 1943.4 L1775.2 1657.4 L1784.6 1652.7 L1803.4 1652.7 L1812.8 1591.6 L3674.0 1591.6" stroke="#4fb3d3" stroke-width="2.5" fill="none" stroke-linejoin="round"/>
<path d="M243.0 2117.0 L637.8 2117.0 L647.2 2091.4 L797.6 2091.4 L807.0 2063.8 L1389.8 2063.8 L1399.2 2060.8 L1418.0 2060.8 L1427.4 1747.8 L1436.8 1704.9 L1455.6 1704.9 L1465.0 1597.6 L1530.8 1597.6 L1540.2 1546.1 L1568.4 1546.1 L1577.8 1520.2 L1615.4 1520.2 L1624.8 1297.6 L1737.6 1297.6 L1747.0 1293.6 L1822.2 1293.6 L1831.6 1289.9 L3674.0 1289.9" stroke="#3192c1" stroke-width="2.5" fill="none" stroke-linejoin="round"/>
<path d="M243.0 2117.0 L590.8 2117.0 L600.2 2011.6 L891.6 2011.6 L901.0 1974.1 L929.2 1974.1 L938.6 1947.1 L966.8 1947.1 L976.2 1836.0 L1098.4 1836.0 L1107.8 1790.4 L1183.0 1790.4 L1192.4 1551.7 L1211.2 1551.7 L1220.6 1532.5 L1286.4 1532.5 L1295.8 1422.7 L1324.0 1422.7 L1333.4 1401.7 L1399.2 1401.7 L1408.6 1386.0 L1418.0 1352.5 L1436.8 1352.5 L1446.2 1333.3 L1455.6 1333.3 L1465.0 1251.0 L1474.4 1251.0 L1483.8 930.1 L1502.0 930.0 L1511.7 910.0 L1520.8 886.0 L1540.0 886.0 L1549.0 883.6 L1653.5 883.6 L1662.6 875.8 L1671.7 810.8 L1868.4 810.7 L1878.8 797.7 L1887.7 672.4 L3675.0 672.4" stroke="#0d6dae" stroke-width="2.5" fill="none" stroke-linejoin="round"/>
<path d="M243.0 2117.0 L525.0 2117.0 L534.4 2110.1 L600.2 2110.1 L609.6 2093.6 L694.2 2093.6 L703.6 2075.9 L778.8 2075.9 L788.2 2013.3 L1023.2 2013.3 L1032.6 1955.4 L1173.6 1955.4 L1183.0 1939.2 L1314.6 1939.2 L1324.0 1924.1 L1352.2 1924.1 L1361.6 1920.7 L1371.0 1823.2 L1380.4 1823.2 L1389.8 1665.0 L1530.8 1665.0 L1540.2 1656.2 L1634.2 1656.2 L1643.6 1555.9 L2019.6 1555.9 L2029.0 1511.6 L2160.6 1511.6 L2170.0 1482.3 L3674.0 1482.3" stroke="#46aace" stroke-width="2.5" fill="none" stroke-linejoin="round"/>
<path d="M243.0 2117.0 L713.0 2117.0 L722.4 2035.0 L863.4 2035.0 L872.8 1819.5 L948.0 1819.5 L957.4 1700.3 L1013.8 1700.3 L1023.2 1673.2 L1154.8 1673.2 L1164.2 1619.7 L1239.4 1619.7 L1248.8 1567.8 L1258.2 1567.8 L1267.6 1426.4 L1286.4 1426.4 L1295.8 1304.0 L1333.4 1304.0 L1342.8 1274.7 L1577.8 1274.7 L1587.2 1254.2 L1662.4 1254.2 L1671.8 1231.6 L1794.0 1231.6 L1803.4 1146.3 L1822.2 1146.3 L1831.6 1139.9 L1850.0 1140.0 L1860.0 1015.5 L1888.0 1015.5 L1897.0 996.0 L3675.0 996.0" stroke="#1a7ab5" stroke-width="2.5" fill="none" stroke-linejoin="round"/>
<path d="M243.0 2117.0 L882.2 2117.0 L891.6 2064.5 L929.2 2064.5 L938.6 1980.8 L1013.8 1980.8 L1023.2 1847.3 L1258.2 1847.3 L1267.6 1806.9 L1324.0 1806.9 L1333.4 1514.8 L1352.2 1514.8 L1361.6 1402.5 L1371.0 1402.5 L1380.4 1401.5 L1418.0 1401.5 L1427.4 1396.3 L1436.8 1156.7 L1502.6 1156.7 L1512.0 1026.9 L1530.8 1026.9 L1540.2 1010.1 L1596.6 1010.1 L1606.0 1002.7 L1615.4 972.4 L1634.2 972.4 L1643.6 959.9 L1657.0 960.0 L1690.0 749.6 L1718.6 749.6 L1727.7 686.0 L1859.0 686.0 L1869.5 611.7 L3675.0 611.7" stroke="#0a6aad" stroke-width="2.5" fill="none" stroke-linejoin="round"/>
<path d="M243.0 2117.0 L788.2 2117.0 L797.6 2018.5 L816.4 2018.5 L825.8 1834.7 L835.2 1834.7 L844.6 1728.1 L995.0 1728.1 L1004.4 1725.4 L1032.6 1725.4 L1042.0 1710.9 L1117.2 1710.9 L1126.6 1599.8 L1248.8 1599.8 L1258.2 1590.4 L1267.6 1463.3 L1389.8 1463.3 L1399.2 1436.7 L1418.0 1436.7 L1427.4 1432.3 L1436.8 1432.3 L1446.2 1416.5 L1455.6 1320.7 L1728.2 1320.7 L1737.6 1139.9 L1747.0 1140.0 L1756.5 1112.3 L1868.4 1112.3 L1878.8 1078.0 L1888.0 1078.0 L1897.0 1052.0 L1906.0 986.0 L1943.9 986.0 L1954.3 936.0 L1963.4 868.0 L2010.2 868.0 L2019.3 843.8 L3675.0 843.8" stroke="#1373b2" stroke-width="2.5" fill="none" stroke-linejoin="round"/>
<path d="M243.0 2117.0 L393.4 2117.0 L402.8 2071.2 L628.4 2071.2 L637.8 2046.8 L684.8 2046.8 L694.2 2028.1 L760.0 2028.1 L769.4 1991.9 L854.0 1991.9 L863.4 1834.7 L1258.2 1834.7 L1267.6 1742.6 L1380.4 1742.6 L1389.8 1542.6 L1455.6 1542.6 L1465.0 1481.1 L1521.4 1481.1 L1530.8 1426.1 L1822.2 1426.1 L1831.6 1422.9 L2019.6 1422.9 L2029.0 1380.3 L2085.4 1380.3 L2094.8 1331.8 L3674.0 1331.8" stroke="#3597c4" stroke-width="2.5" fill="none" stroke-linejoin="round"/>
<path d="M243.0 2117.0 L694.2 2117.0 L703.6 2114.3 L807.0 2114.3 L816.4 1977.8 L938.6 1977.8 L948.0 1813.8 L1060.8 1813.8 L1070.2 1796.6 L1399.2 1796.6 L1408.6 1784.0 L1549.6 1784.0 L1559.0 1732.0 L1577.8 1732.0 L1587.2 1615.3 L1737.6 1615.3 L1747.0 1608.6 L1897.4 1608.6 L1906.8 1585.2 L3674.0 1585.2" stroke="#4fb3d3" stroke-width="2.5" fill="none" stroke-linejoin="round"/>
<path d="M243.0 2117.0 L506.2 2117.0 L515.6 2110.1 L609.6 2110.1 L619.0 1999.8 L797.6 1999.8 L807.0 1965.5 L957.4 1965.5 L966.8 1962.3 L1004.4 1962.3 L1013.8 1812.6 L1051.4 1812.6 L1060.8 1812.3 L1126.6 1812.3 L1136.0 1806.7 L1333.4 1806.7 L1342.8 1730.3 L1418.0 1730.3 L1427.4 1539.2 L1436.8 1539.2 L1446.2 1458.4 L1455.6 1453.0 L1483.8 1453.0 L1493.2 1350.8 L1559.0 1350.8 L1568.4 1161.1 L1662.4 1161.1 L1671.8 1154.5 L1728.2 1154.5 L1737.6 1139.9 L1750.0 1140.0 L1755.7 947.8 L1765.6 923.1 L1803.3 923.1 L1812.5 899.7 L1821.6 857.3 L1859.3 857.3 L1868.4 828.1 L2037.5 828.1 L2057.0 803.4 L3675.0 803.4" stroke="#1171b1" stroke-width="2.5" fill="none" stroke-linejoin="round"/>
<path d="M243.0 2117.0 L731.8 2117.0 L741.2 2040.9 L854.0 2040.9 L863.4 2036.0 L882.2 2036.0 L891.6 1940.2 L1089.0 1940.2 L1098.4 1919.5 L1606.0 1919.5 L1615.4 1881.0 L1982.0 1881.0 L1991.4 1798.8 L3674.0 1798.8" stroke="#62becc" stroke-width="2.5" fill="none" stroke-linejoin="round"/>
<path d="M243.0 2117.0 L384.0 2117.0 L393.4 2099.5 L731.8 2099.5 L741.2 2098.3 L910.4 2098.3 L919.8 2070.4 L957.4 2070.4 L966.8 2029.8 L1042.0 2029.8 L1051.4 1969.2 L1060.8 1969.2 L1070.2 1959.4 L1201.8 1959.4 L1211.2 1824.4 L1267.6 1824.4 L1277.0 1753.0 L1305.2 1753.0 L1314.6 1569.7 L1352.2 1569.7 L1361.6 1555.4 L1446.2 1555.4 L1455.6 1487.5 L1615.4 1487.5 L1624.8 1343.4 L3674.0 1343.4" stroke="#3699c5" stroke-width="2.5" fill="none" stroke-linejoin="round"/>
<path d="M243.0 2117.0 L590.8 2117.0 L600.2 2070.2 L609.6 1997.1 L882.2 1997.1 L891.6 1990.9 L901.0 1967.2 L910.4 1967.2 L919.8 1803.5 L1286.4 1803.5 L1295.8 1617.7 L1314.6 1617.7 L1324.0 1375.4 L1455.6 1375.4 L1465.0 1374.7 L1512.0 1374.7 L1521.4 1195.1 L1784.6 1195.1 L1794.0 1176.9 L1831.6 1176.9 L1841.0 1173.4 L1888.0 1173.4 L1897.4 1163.8 L2047.8 1163.8 L2057.2 1155.9 L2094.8 1155.9 L2104.2 1145.3 L3674.0 1145.3" stroke="#2586bb" stroke-width="2.5" fill="none" stroke-linejoin="round"/>
<path d="M243.0 2117.0 L515.6 2117.0 L525.0 2087.4 L825.8 2087.4 L835.2 2079.6 L854.0 2079.6 L863.4 1732.3 L957.4 1732.3 L966.8 1732.0 L1117.2 1732.0 L1126.6 1691.4 L1145.4 1691.4 L1154.8 1615.5 L1230.0 1615.5 L1239.4 1559.1 L1418.0 1559.1 L1427.4 1383.8 L1455.6 1383.8 L1465.0 1375.6 L1474.4 1324.7 L1530.8 1324.7 L1540.2 1260.6 L2000.8 1260.6 L2010.2 1253.5 L3674.0 1253.5" stroke="#2d8fbf" stroke-width="2.5" fill="none" stroke-linejoin="round"/>
<path d="M243.0 2117.0 L619.0 2117.0 L628.4 1954.4 L760.0 1954.4 L769.4 1821.4 L985.6 1821.4 L995.0 1697.6 L1023.2 1697.6 L1032.6 1567.8 L1286.4 1567.8 L1295.8 1453.2 L1380.4 1453.2 L1389.8 1430.8 L1408.6 1430.8 L1418.0 1400.0 L1502.6 1400.0 L1512.0 1310.1 L1577.8 1310.1 L1587.2 1234.0 L1606.0 1234.0 L1615.4 980.1 L1625.0 980.0 L1634.0 934.0 L1671.7 934.0 L1681.0 921.4 L1690.0 822.5 L1718.6 822.5 L1727.7 785.3 L1747.0 785.3 L1752.4 687.0 L1756.3 637.8 L1765.4 564.4 L1945.0 564.4 L1954.0 551.9 L2010.0 551.9 L2019.0 527.7 L2047.7 527.7 L2056.9 490.7 L3675.0 490.7" stroke="#0866a9" stroke-width="2.5" fill="none" stroke-linejoin="round"/>
<path d="M243.0 2117.0 L656.6 2117.0 L666.0 1902.7 L741.2 1902.7 L750.6 1893.4 L760.0 1893.4 L769.4 1864.3 L891.6 1864.3 L901.0 1818.5 L1136.0 1818.5 L1145.4 1781.5 L1239.4 1781.5 L1248.8 1736.7 L1258.2 1736.7 L1267.6 1698.8 L1324.0 1698.8 L1333.4 1639.2 L1380.4 1639.2 L1389.8 1612.8 L1455.6 1612.8 L1465.0 1612.1 L1474.4 1612.1 L1483.8 1590.7 L1493.2 1441.6 L1540.2 1441.6 L1549.6 1399.3 L1615.4 1399.3 L1624.8 1267.3 L1718.8 1267.3 L1728.2 1139.9 L1740.0 1140.0 L1750.0 1124.8 L1972.5 1124.8 L1981.6 1100.8 L2197.6 1100.8 L2206.7 1076.6 L3675.0 1076.6" stroke="#1f80b8" stroke-width="2.5" fill="none" stroke-linejoin="round"/>
<path d="M243.0 2117.0 L656.6 2117.0 L666.0 2087.7 L919.8 2087.7 L929.2 2080.1 L1079.6 2080.1 L1089.0 2063.1 L1267.6 2063.1 L1277.0 2047.8 L1361.6 2047.8 L1371.0 2041.4 L1399.2 2041.4 L1408.6 2038.9 L1418.0 2033.8 L1681.2 2033.8 L1690.6 2026.6 L1747.0 2026.6 L1756.4 2019.2 L3674.0 2019.2" stroke="#75c8c6" stroke-width="2.5" fill="none" stroke-linejoin="round"/>
<path d="M243.0 2117.0 L506.2 2117.0 L515.6 2048.3 L656.6 2048.3 L666.0 1953.2 L778.8 1953.2 L788.2 1945.6 L872.8 1945.6 L882.2 1902.0 L891.6 1902.0 L901.0 1795.6 L1136.0 1795.6 L1145.4 1783.5 L1342.8 1783.5 L1352.2 1770.9 L1380.4 1770.9 L1389.8 1749.5 L1465.0 1749.5 L1474.4 1722.4 L1718.8 1722.4 L1728.2 1692.9 L1822.2 1692.9 L1831.6 1673.9 L1841.0 1673.9 L1850.4 1672.2 L3674.0 1672.2" stroke="#57b8d0" stroke-width="2.5" fill="none" stroke-linejoin="round"/>
<path d="M243.0 2117.0 L656.6 2117.0 L666.0 2112.8 L731.8 2112.8 L741.2 2088.7 L985.6 2088.7 L995.0 2083.3 L1220.6 2083.3 L1230.0 2072.4 L1371.0 2072.4 L1380.4 2065.5 L1812.8 2065.5 L1822.2 2019.2 L3674.0 2019.2" stroke="#75c8c6" stroke-width="2.5" fill="none" stroke-linejoin="round"/>
<path d="M243.0 2117.0 L713.0 2117.0 L722.4 2063.8 L835.2 2063.8 L844.6 1939.9 L957.4 1939.9 L966.8 1784.0 L1098.4 1784.0 L1107.8 1599.5 L1136.0 1599.5 L1145.4 1552.5 L1455.6 1552.5 L1465.0 1533.8 L1681.2 1533.8 L1690.6 1495.8 L1944.4 1495.8 L1953.8 1490.9 L3674.0 1490.9" stroke="#47abcf" stroke-width="2.5" fill="none" stroke-linejoin="round"/>
<path d="M243.0 2117.0 L656.6 2117.0 L666.0 2067.5 L901.0 2067.5 L910.4 2067.2 L948.0 2067.2 L957.4 1874.1 L966.8 1858.1 L1013.8 1858.1 L1023.2 1821.7 L1051.4 1821.7 L1060.8 1784.2 L1079.6 1784.2 L1089.0 1779.1 L1164.2 1779.1 L1173.6 1778.6 L1220.6 1778.6 L1230.0 1691.6 L1239.4 1640.7 L1324.0 1640.7 L1333.4 1639.7 L1342.8 1411.4 L1389.8 1411.4 L1399.2 1400.0 L1530.8 1400.0 L1540.2 1389.4 L1624.8 1389.4 L1634.2 1300.3 L1653.0 1300.3 L1662.4 1285.2 L3674.0 1285.2" stroke="#3091c1" stroke-width="2.5" fill="none" stroke-linejoin="round"/>
<path d="M243.0 2117.0 L910.4 2117.0 L919.8 2115.3 L957.4 2115.3 L966.8 2002.2 L985.6 2002.2 L995.0 1984.5 L1004.4 1939.7 L1079.6 1939.7 L1089.0 1922.4 L1098.4 1922.4 L1107.8 1779.3 L1117.2 1779.3 L1126.6 1709.6 L1192.4 1709.6 L1201.8 1692.1 L1258.2 1692.1 L1267.6 1691.9 L1352.2 1691.9 L1361.6 1606.4 L1408.6 1606.4 L1418.0 1396.8 L1446.2 1396.8 L1455.6 1391.2 L1737.6 1391.2 L1747.0 1139.9 L1760.0 1140.0 L1765.6 1035.0 L1774.7 1035.0 L1783.8 1015.5 L1972.5 1015.5 L1981.6 916.6 L3675.0 916.6" stroke="#1576b3" stroke-width="2.5" fill="none" stroke-linejoin="round"/>
<path d="M243.0 2117.0 L703.6 2117.0 L713.0 2025.6 L1079.6 2025.6 L1089.0 2016.5 L1314.6 2016.5 L1324.0 1896.1 L1455.6 1896.1 L1465.0 1868.5 L1474.4 1819.2 L1577.8 1819.2 L1587.2 1625.9 L1634.2 1625.9 L1643.6 1625.4 L1831.6 1625.4 L1841.0 1518.7 L3674.0 1518.7" stroke="#49add0" stroke-width="2.5" fill="none" stroke-linejoin="round"/>
<path d="M243.0 2117.0 L769.4 2117.0 L778.8 2107.1 L891.6 2107.1 L901.0 2100.3 L910.4 2100.3 L919.8 2093.6 L1164.2 2093.6 L1173.6 2078.6 L1314.6 2078.6 L1324.0 1882.3 L1483.8 1882.3 L1493.2 1871.9 L1530.8 1871.9 L1540.2 1855.4 L1549.6 1855.4 L1559.0 1853.7 L1963.2 1853.7 L1972.6 1804.2 L3674.0 1804.2" stroke="#62becc" stroke-width="2.5" fill="none" stroke-linejoin="round"/>
<path d="M243.0 2117.0 L553.2 2117.0 L562.6 2061.6 L684.8 2061.6 L694.2 2023.4 L976.2 2023.4 L985.6 2019.7 L1117.2 2019.7 L1126.6 1986.0 L1220.6 1986.0 L1230.0 1904.7 L1239.4 1904.7 L1248.8 1781.5 L1408.6 1781.5 L1418.0 1688.4 L1512.0 1688.4 L1521.4 1672.4 L1568.4 1672.4 L1577.8 1671.0 L1596.6 1671.0 L1606.0 1576.4 L1643.6 1576.4 L1653.0 1568.5 L3674.0 1568.5" stroke="#4db2d3" stroke-width="2.5" fill="none" stroke-linejoin="round"/><path d="M243.0 2117.0 L813.0 2117.0 L835.6 2097.0 L855.0 2097.0 L859.0 2053.0 L872.6 1947.0 L878.6 1858.0 L886.0 1769.0 L890.4 1718.0 L898.0 1716.0 L984.0 1714.0 L992.0 1671.0 L1004.0 1639.0 L1022.6 1619.0 L1030.7 1538.0 L1036.8 1376.0 L1040.8 1279.0 L1051.0 1237.0 L1061.0 1227.0 L1097.0 1227.0 L1109.5 1202.0 L1128.0 1133.0 L1142.0 1133.0 L1152.5 982.0 L1163.0 958.0 L1310.0 959.0 L1318.0 915.0 L1327.0 874.0 L1337.0 874.0 L1350.0 859.0 L1391.0 859.0 L1399.0 781.5 L1418.0 781.5 L1427.0 774.0 L1438.5 731.0 L1446.0 704.0 L1455.5 617.0 L1472.5 612.0 L1495.0 612.0 L1502.6 595.0 L1512.0 508.0 L1521.5 485.0 L1531.0 482.6 L1737.0 483.6 L1748.0 471.0 L3675.0 471.0" stroke="#08306b" stroke-width="20.8" fill="none" stroke-linejoin="round" stroke-linecap="square"/>
<path d="M243.0 2117.0 L601.0 2117.0 L611.0 2069.0 L780.0 2066.0 L925.5 2066.0 L936.0 2056.0 L1397.6 2057.0 L1412.2 2045.3 L1422.7 2045.3 L1437.3 2012.9 L1548.0 2012.9 L1561.6 2001.4 L1577.2 2001.4 L1589.8 1927.3 L1690.0 1927.3 L1708.8 1829.0 L3675.0 1829.0" stroke="#6baed6" stroke-width="20.8" fill="none" stroke-linejoin="round" stroke-linecap="square"/>
<path d="M243.0 2117.0 L300.0 2116.0 L380.0 2114.0 L412.0 2112.0 L460.0 2109.0 L500.0 2104.0 L540.0 2100.0 L580.0 2093.0 L620.0 2085.0 L660.0 2076.0 L700.0 2067.0 L740.0 2054.0 L780.0 2039.0 L861.0 1995.0 L941.7 1933.0 L1022.6 1874.0 L1103.5 1817.5 L1184.0 1761.0 L1265.0 1693.5 L1340.0 1636.0 L1427.0 1572.0 L1490.0 1510.0 L1535.0 1472.0 L1572.0 1440.0 L1597.0 1417.5 L1632.0 1380.0 L1680.0 1348.0 L1728.0 1322.0 L1776.0 1303.0 L1840.0 1281.0 L1888.0 1268.0 L1952.0 1245.0 L2000.0 1228.0 L2064.0 1213.0 L2128.0 1200.5 L2192.0 1192.5 L2256.0 1188.0 L2272.0 1187.5 L3675.0 1187.5" stroke="#2171b5" stroke-width="20.8" fill="none" stroke-linejoin="round" stroke-linecap="square"/>
<path d="M243.0 2117.0 L469.0 2117.0 L477.0 2049.0 L611.0 2049.0 L618.0 1972.0 L1022.6 1971.0 L1030.7 1871.4 L1071.0 1868.7 L1076.5 1836.4 L1219.0 1836.4 L1235.5 1693.5 L1305.6 1693.5 L1313.7 1601.9 L1418.8 1601.9 L1427.0 1513.0 L1475.4 1510.0 L1483.5 1488.7 L1545.5 1488.7 L1556.0 1461.7 L1576.0 1459.0 L1587.0 1392.8 L3383.6 1392.8" stroke="#000000" stroke-width="20.8" fill="none" stroke-linejoin="round" stroke-linecap="square"/>
<circle cx="3383.6" cy="1393.2" r="23" fill="#000"/></g>
<rect x="196.5" y="270.5" width="3487.0" height="1848.0" fill="none" stroke="#fff" stroke-width="3.3"/>
<path d="M3683.5 2117.0H3698.5 M3683.5 1874.6H3698.5 M3683.5 1632.2H3698.5 M3683.5 1389.7H3698.5 M3683.5 1147.3H3698.5 M3683.5 904.9H3698.5 M3683.5 662.5H3698.5 M3683.5 420.1H3698.5" stroke="#fff" stroke-width="3.3" fill="none"/>
<g opacity="0.999"><text x="747.73" y="93.90" font-size="88.57" fill="#fff" textLength="2271.58" lengthAdjust="spacingAndGlyphs" xml:space="preserve">2020-2021 Accumulated Snowfall For Milford_4_Nw, IA</text>
<text x="328.38" y="245.20" font-size="53.14" fill="#fff" textLength="3219.57" lengthAdjust="spacingAndGlyphs" xml:space="preserve">GHCN-D ID= USC00135493 | LAT= 43.3828 | LON= -95.1842 | ELEV= 1401' | Period= 1919-2021 | Season To Date Report= 92%</text>
<text x="269.95" y="328.90" font-size="31.00" fill="#fff" textLength="1339.11" lengthAdjust="spacingAndGlyphs" xml:space="preserve">Generated by Jared Rennie (@jjrennie) on: 2021-09-28 08:41 Eastern. Data up to 20210831</text>
<text x="-0.11" y="0.00" font-size="53.14" fill="#fff" textLength="769.17" lengthAdjust="spacingAndGlyphs" transform="translate(67.3,1580) rotate(-90)" xml:space="preserve">Accumulated Snowfall (inches)</text>
<text x="-0.12" y="0.00" font-size="53.14" fill="#fff" textLength="705.04" lengthAdjust="spacingAndGlyphs" transform="translate(3863.5,842.2) rotate(90)" xml:space="preserve">Accumulated Snowfall (mm)</text>
<text x="121.76" y="2132.20" font-size="44.29" fill="#fff" textLength="42.74" lengthAdjust="spacingAndGlyphs" xml:space="preserve">0&quot;</text>
<text x="95.32" y="1885.90" font-size="44.29" fill="#fff" textLength="69.18" lengthAdjust="spacingAndGlyphs" xml:space="preserve">10&quot;</text>
<text x="95.01" y="1639.60" font-size="44.29" fill="#fff" textLength="69.50" lengthAdjust="spacingAndGlyphs" xml:space="preserve">20&quot;</text>
<text x="95.73" y="1393.30" font-size="44.29" fill="#fff" textLength="68.76" lengthAdjust="spacingAndGlyphs" xml:space="preserve">30&quot;</text>
<text x="95.30" y="1147.00" font-size="44.29" fill="#fff" textLength="69.21" lengthAdjust="spacingAndGlyphs" xml:space="preserve">40&quot;</text>
<text x="95.68" y="900.70" font-size="44.29" fill="#fff" textLength="68.81" lengthAdjust="spacingAndGlyphs" xml:space="preserve">50&quot;</text>
<text x="94.84" y="654.40" font-size="44.29" fill="#fff" textLength="69.68" lengthAdjust="spacingAndGlyphs" xml:space="preserve">60&quot;</text>
<text x="95.35" y="408.10" font-size="44.29" fill="#fff" textLength="69.16" lengthAdjust="spacingAndGlyphs" xml:space="preserve">70&quot;</text>
<text x="3713.63" y="2132.20" font-size="44.29" fill="#fff" textLength="24.42" lengthAdjust="spacingAndGlyphs" xml:space="preserve">0</text>
<text x="3713.30" y="1889.78" font-size="44.29" fill="#fff" textLength="77.87" lengthAdjust="spacingAndGlyphs" xml:space="preserve">250</text>
<text x="3713.97" y="1647.36" font-size="44.29" fill="#fff" textLength="77.19" lengthAdjust="spacingAndGlyphs" xml:space="preserve">500</text>
<text x="3713.64" y="1404.94" font-size="44.29" fill="#fff" textLength="77.53" lengthAdjust="spacingAndGlyphs" xml:space="preserve">750</text>
<text x="3713.61" y="1162.51" font-size="44.29" fill="#fff" textLength="104.07" lengthAdjust="spacingAndGlyphs" xml:space="preserve">1000</text>
<text x="3713.61" y="920.09" font-size="44.29" fill="#fff" textLength="104.07" lengthAdjust="spacingAndGlyphs" xml:space="preserve">1250</text>
<text x="3713.61" y="677.67" font-size="44.29" fill="#fff" textLength="104.07" lengthAdjust="spacingAndGlyphs" xml:space="preserve">1500</text>
<text x="3713.61" y="435.25" font-size="44.29" fill="#fff" textLength="104.07" lengthAdjust="spacingAndGlyphs" xml:space="preserve">1750</text>
<text x="187.28" y="2178.30" font-size="44.29" fill="#fff" textLength="110.00" lengthAdjust="spacingAndGlyphs" xml:space="preserve">Oct 1</text>
<text x="473.83" y="2178.30" font-size="44.29" fill="#fff" textLength="119.08" lengthAdjust="spacingAndGlyphs" xml:space="preserve">Nov 1</text>
<text x="747.20" y="2178.30" font-size="44.29" fill="#fff" textLength="118.35" lengthAdjust="spacingAndGlyphs" xml:space="preserve">Dec 1</text>
<text x="1043.20" y="2178.30" font-size="44.29" fill="#fff" textLength="105.03" lengthAdjust="spacingAndGlyphs" xml:space="preserve">Jan 1</text>
<text x="1323.78" y="2178.30" font-size="44.29" fill="#fff" textLength="111.24" lengthAdjust="spacingAndGlyphs" xml:space="preserve">Feb 1</text>
<text x="1612.89" y="2178.30" font-size="44.29" fill="#fff" textLength="116.37" lengthAdjust="spacingAndGlyphs" xml:space="preserve">Mar 1</text>
<text x="1898.03" y="2178.30" font-size="44.29" fill="#fff" textLength="109.98" lengthAdjust="spacingAndGlyphs" xml:space="preserve">Apr 1</text>
<text x="2182.43" y="2178.30" font-size="44.29" fill="#fff" textLength="123.89" lengthAdjust="spacingAndGlyphs" xml:space="preserve">May 1</text>
<text x="2481.75" y="2178.30" font-size="44.29" fill="#fff" textLength="105.93" lengthAdjust="spacingAndGlyphs" xml:space="preserve">Jun 1</text>
<text x="2771.17" y="2178.30" font-size="44.29" fill="#fff" textLength="91.10" lengthAdjust="spacingAndGlyphs" xml:space="preserve">Jul 1</text>
<text x="3049.69" y="2178.30" font-size="44.29" fill="#fff" textLength="119.23" lengthAdjust="spacingAndGlyphs" xml:space="preserve">Aug 1</text>
<text x="3333.61" y="2178.30" font-size="44.29" fill="#fff" textLength="115.84" lengthAdjust="spacingAndGlyphs" xml:space="preserve">Sep 1</text>
<rect x="195.8" y="2218" width="3486.6" height="87.6" rx="12" ry="12" fill="#666666" stroke="#b4b4b4" stroke-width="3.3"/>
<rect x="205.9" y="2249" width="121.1" height="21" fill="#08306b"/>
<text x="355.92" y="2277.00" font-size="53.14" fill="#fff" textLength="629.39" lengthAdjust="spacingAndGlyphs" xml:space="preserve">Max (2009-2010):   66.9&quot;</text>
<rect x="1078.8" y="2249" width="120.7" height="21" fill="#6baed6"/>
<text x="1227.27" y="2277.00" font-size="53.14" fill="#fff" textLength="615.85" lengthAdjust="spacingAndGlyphs" xml:space="preserve">Min (1975-1976):   11.7&quot;</text>
<rect x="1937.1" y="2249" width="120.7" height="21" fill="#2171b5"/>
<text x="2087.18" y="2277.00" font-size="53.14" fill="#fff" textLength="618.50" lengthAdjust="spacingAndGlyphs" xml:space="preserve">Avg (1991-2020):   38.0&quot;</text>
<rect x="2799.2" y="2249" width="120.8" height="21" fill="#000000"/>
<text x="2947.29" y="2277.00" font-size="53.14" fill="#fff" textLength="715.22" lengthAdjust="spacingAndGlyphs" xml:space="preserve">Current (2020-2021):   29.4&quot;</text></g>
</svg></body></html>
